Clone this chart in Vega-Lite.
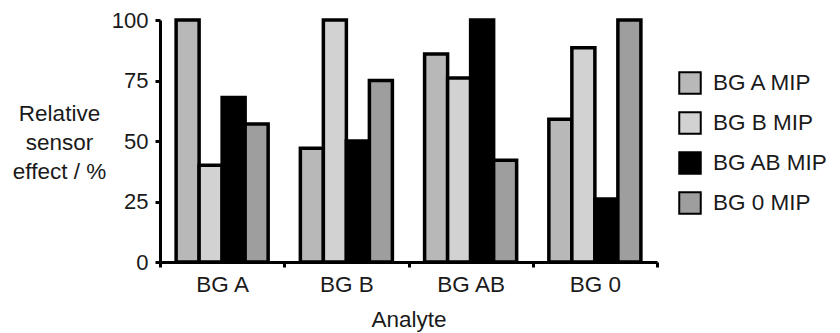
{
  "$schema": "https://vega.github.io/schema/vega-lite/v6.json",
  "width": 497,
  "height": 242,
  "autosize": {"type": "none"},
  "padding": {"left": 160, "top": 20, "right": 183, "bottom": 71},
  "background": "white",
  "config": {"font": "Liberation Sans", "view": {"stroke": null}},
  "data": {
    "values": [
      {"analyte": "BG A", "mip": "BG A MIP", "value": 100},
      {"analyte": "BG A", "mip": "BG B MIP", "value": 40},
      {"analyte": "BG A", "mip": "BG AB MIP", "value": 68},
      {"analyte": "BG A", "mip": "BG 0 MIP", "value": 57},
      {"analyte": "BG B", "mip": "BG A MIP", "value": 47},
      {"analyte": "BG B", "mip": "BG B MIP", "value": 100},
      {"analyte": "BG B", "mip": "BG AB MIP", "value": 50},
      {"analyte": "BG B", "mip": "BG 0 MIP", "value": 75},
      {"analyte": "BG AB", "mip": "BG A MIP", "value": 86},
      {"analyte": "BG AB", "mip": "BG B MIP", "value": 76},
      {"analyte": "BG AB", "mip": "BG AB MIP", "value": 100},
      {"analyte": "BG AB", "mip": "BG 0 MIP", "value": 42},
      {"analyte": "BG 0", "mip": "BG A MIP", "value": 59},
      {"analyte": "BG 0", "mip": "BG B MIP", "value": 88.5},
      {"analyte": "BG 0", "mip": "BG AB MIP", "value": 26},
      {"analyte": "BG 0", "mip": "BG 0 MIP", "value": 100}
    ]
  },
  "mark": {"type": "bar", "stroke": "black", "strokeWidth": 3.5},
  "encoding": {
    "x": {
      "field": "analyte",
      "type": "nominal",
      "sort": ["BG A", "BG B", "BG AB", "BG 0"],
      "scale": {"paddingInner": 0, "paddingOuter": 0},
      "axis": {
        "title": "Analyte",
        "titleFontSize": 22.5,
        "titleFontWeight": "normal",
        "titleColor": "#1a1a1a",
        "titlePadding": 13,
        "labelAngle": 0,
        "labelFontSize": 22.5,
        "labelColor": "#1a1a1a",
        "labelPadding": 6,
        "tickBand": "extent",
        "domainWidth": 3,
        "domainColor": "black",
        "tickColor": "black",
        "tickWidth": 3,
        "tickSize": 5
      }
    },
    "xOffset": {
      "field": "mip",
      "type": "nominal",
      "sort": ["BG A MIP", "BG B MIP", "BG AB MIP", "BG 0 MIP"],
      "scale": {"paddingOuter": 0.7, "paddingInner": 0}
    },
    "y": {
      "field": "value",
      "type": "quantitative",
      "scale": {"domain": [0, 100], "nice": false},
      "axis": {
        "title": ["Relative", "sensor", "effect / %"],
        "titleAngle": 0,
        "titleAlign": "center",
        "titleBaseline": "alphabetic",
        "titleX": -101,
        "titleY": 100,
        "titleLineHeight": 29,
        "titleFontSize": 22.5,
        "titleFontWeight": "normal",
        "titleColor": "#1a1a1a",
        "values": [0, 25, 50, 75, 100],
        "grid": false,
        "domainWidth": 3,
        "domainColor": "black",
        "tickColor": "black",
        "tickWidth": 3,
        "tickSize": 5,
        "labelFontSize": 22,
        "labelColor": "#1a1a1a",
        "labelPadding": 7
      }
    },
    "fill": {
      "field": "mip",
      "type": "nominal",
      "sort": ["BG A MIP", "BG B MIP", "BG AB MIP", "BG 0 MIP"],
      "scale": {
        "domain": ["BG A MIP", "BG B MIP", "BG AB MIP", "BG 0 MIP"],
        "range": ["#b8b8b8", "#d2d2d2", "#000000", "#9e9e9e"]
      },
      "legend": {
        "orient": "none",
        "legendX": 518,
        "legendY": 51,
        "title": null,
        "symbolType": "square",
        "symbolSize": 462,
        "symbolStrokeColor": "black",
        "symbolStrokeWidth": 2,
        "symbolOpacity": 1,
        "labelFontSize": 22.5,
        "labelColor": "#1a1a1a",
        "labelOffset": 11,
        "rowPadding": 10
      }
    }
  }
}
